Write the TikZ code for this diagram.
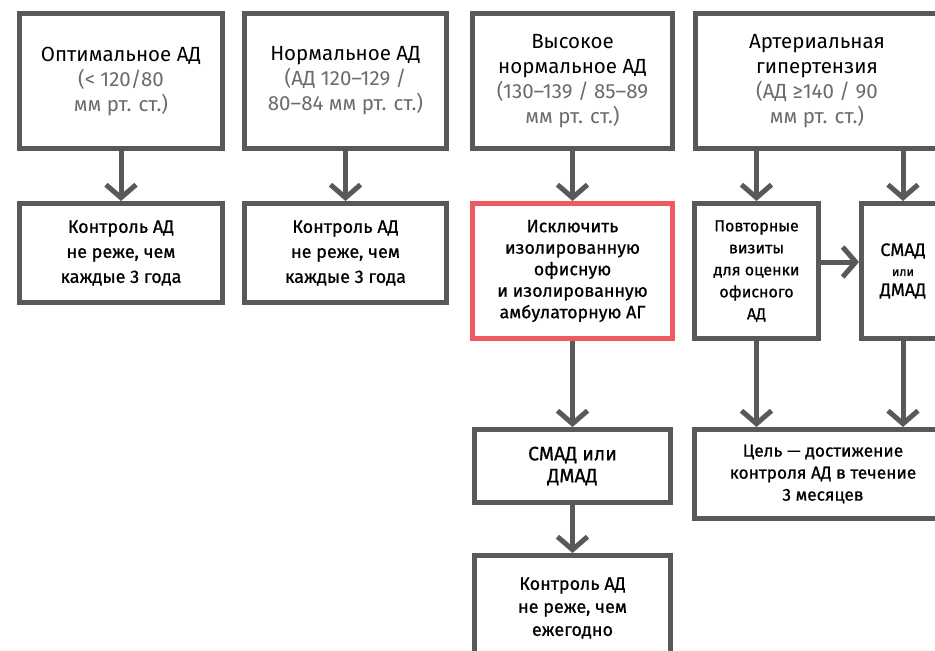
\documentclass[tikz,border=0pt]{standalone}
\usepackage{fontspec}
\setmainfont{Fira Sans}
\newfontfamily\medium{Fira Sans}[FakeBold=0.8]
\usetikzlibrary{arrows.meta}
\definecolor{boxgray}{HTML}{58595B}
\definecolor{subgray}{HTML}{6A6B6D}
\definecolor{alertred}{HTML}{EE5A5F}
\newcommand{\gr}[1]{\textcolor{subgray}{#1}}
\tikzset{
  stage/.style={draw=boxgray,line width=5pt,align=center,inner sep=0pt,text=black,
    font=\fontsize{20.5}{25}\selectfont},
  advice/.style={draw=boxgray,line width=5pt,align=center,inner sep=0pt,text=black,
    font=\medium\fontsize{18}{25}\selectfont},
  flow/.style={draw=boxgray,line width=5pt,-{Straight Barb[length=13pt,width=30pt]}}
}
\begin{document}
\begin{tikzpicture}[x=1pt,y=-1pt,line join=miter]
	\def \W{935}
	\def \H{651}
	\useasboundingbox (0,0) rectangle (\W,\H);
	\fill[white] (0,0) rectangle (\W,\H);
	\clip (0,0) rectangle (\W,\H);
	% top row
	\node[stage,minimum width=203pt,minimum height=135pt] (opt) at (121,81)
		{Оптимальное АД\\\gr{(< 120/80}\\\gr{мм рт. ст.)}};
	\node[stage,minimum width=202pt,minimum height=135pt] (norm) at (345.5,81)
		{Нормальное АД\\\gr{(АД 120–129 /}\\\gr{80–84 мм рт. ст.)}};
	\node[stage,minimum width=200pt,minimum height=135pt] (high) at (572.5,81)
		{Высокое\\нормальное АД\\\gr{(130–139 / 85–89}\\\gr{мм рт. ст.)}};
	\node[stage,minimum width=243pt,minimum height=135pt] (hyp) at (817,81)
		{Артериальная\\гипертензия\\\gr{(АД ≥140 / 90}\\\gr{мм рт. ст.)}};
	% second row
	\node[advice,minimum width=203pt,minimum height=99pt] (optc) at (121,253)
		{Контроль АД\\не реже, чем\\каждые 3 года};
	\node[advice,minimum width=202pt,minimum height=99pt] (normc) at (345.5,253)
		{Контроль АД\\не реже, чем\\каждые 3 года};
	\node[advice,draw=alertred,minimum width=200pt,minimum height=135pt,
		font=\medium\fontsize{17.8}{21.5}\selectfont] (excl) at (572.5,271)
		{Исключить\\изолированную\\офисную\\и изолированную\\амбулаторную АГ};
	\node[advice,minimum width=124pt,minimum height=135pt,
		font=\medium\fontsize{16}{22}\selectfont] (visit) at (756.5,271)
		{Повторные\\визиты\\для оценки\\офисного\\АД};
	\node[advice,minimum width=83pt,minimum height=135pt,
		font=\medium\fontsize{18}{20}\selectfont] (amb) at (903,271)
		{СМАД\\{\fontsize{12.5}{20}\selectfont или}\\ДМАД};
	% lower rows
	\node[advice,minimum width=196pt,minimum height=73pt,
		font=\medium\fontsize{19.5}{22}\selectfont] (smad) at (572.5,466)
		{СМАД или\\ДМАД};
	\node[advice,minimum width=196pt,minimum height=105pt,
		font=\medium\fontsize{18}{23}\selectfont] (year) at (572.5,608)
		{Контроль АД\\не реже, чем\\ежегодно};
	\node[advice,minimum width=257pt,minimum height=89pt,
		font=\medium\fontsize{17.3}{22}\selectfont] (goal) at (823,474)
		{Цель — достижение\\контроля АД в течение\\3 месяцев};
	% connectors
	\draw[flow] (opt.south) -- (optc.north);
	\draw[flow] (norm.south) -- (normc.north);
	\draw[flow] (high.south) -- (excl.north);
	\draw[flow] (visit.north |- hyp.south) -- (visit.north);
	\draw[flow] (amb.north |- hyp.south) -- (amb.north);
	\draw[flow] ([yshift=9pt]visit.east) -- ([yshift=9pt]amb.west);
	\draw[flow] (excl.south) -- (smad.north);
	\draw[flow] (smad.south) -- (year.north);
	\draw[flow] (visit.south) -- (visit.south |- goal.north);
	\draw[flow] (amb.south) -- (amb.south |- goal.north);
\end{tikzpicture}
\end{document}
